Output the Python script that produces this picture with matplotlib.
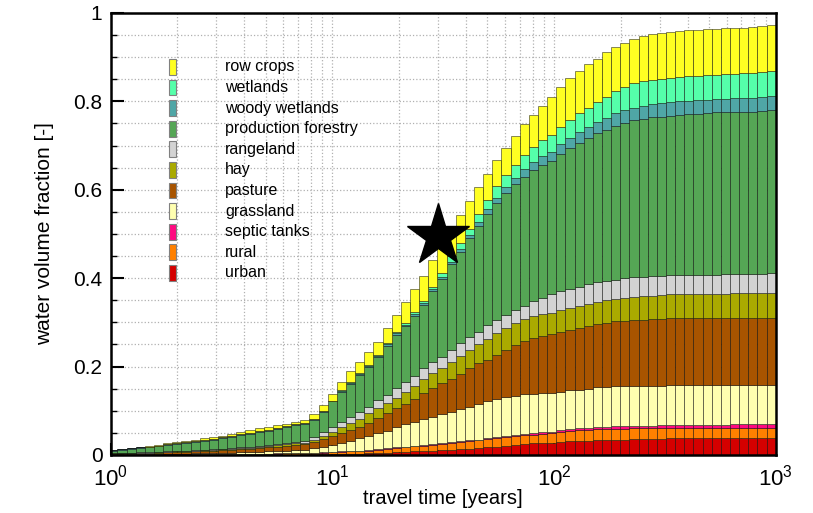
import matplotlib
matplotlib.use("Agg")
import matplotlib.pyplot as plt
from matplotlib.patches import Rectangle
from matplotlib.ticker import LogLocator, MultipleLocator, NullFormatter
import numpy as np

plt.rcParams['font.family'] = ['Liberation Sans', 'DejaVu Sans']
plt.rcParams['mathtext.fontset'] = 'custom'
plt.rcParams['mathtext.rm'] = 'Liberation Sans'
plt.rcParams['mathtext.it'] = 'Liberation Sans:italic'

# travel-time bins, log spaced, last edge at 1000 years
travel_time_edges = np.logspace(-0.011, 3, 74)

# cumulative water volume fraction at the top of each land-use layer, one value per bin
urban_top = [.0002, .0002, .0002, .0003, .0003, .0003, .0004, .0004, .0004, .0005,
             .0005, .0006, .0006, .0007, .0008, .0008, .0009, .001, .001, .001,
             .001, .0012, .0014, .0016, .002, .002, .003, .003, .004, .004,
             .005, .006, .007, .008, .009, .010, .011, .012, .013, .014,
             .015, .017, .019, .021, .023, .025, .026, .027, .028, .030,
             .031, .031, .032, .034, .035, .035, .035, .036, .037, .037,
             .037, .038, .038, .038, .038, .038, .038, .038, .038, .038,
             .038, .038, .038]
rural_top = [.0004, .0005, .0006, .0007, .0008, .0009, .001, .0011, .0012, .0013,
             .0014, .0016, .0018, .002, .0022, .0025, .0027, .003, .0033, .0036,
             .004, .0045, .005, .0055, .006, .007, .008, .009, .010, .012,
             .014, .016, .018, .020, .021, .023, .025, .027, .029, .031,
             .033, .036, .039, .041, .043, .045, .046, .048, .049, .053,
             .054, .056, .057, .058, .059, .059, .059, .060, .060, .060,
             .060, .060, .060, .060, .060, .060, .060, .060, .060, .060,
             .060, .060, .060]
septic_top = [.0005, .0006, .0007, .0008, .0009, .001, .0011, .0012, .0013, .0014,
              .0016, .0018, .002, .0022, .0025, .0028, .003, .0033, .0036, .004,
              .0045, .005, .0055, .006, .007, .008, .009, .010, .011, .013,
              .015, .017, .019, .021, .023, .025, .027, .029, .031, .033,
              .035, .038, .041, .043, .045, .047, .049, .051, .053, .057,
              .059, .060, .062, .064, .064, .065, .065, .066, .066, .066,
              .067, .067, .068, .068, .068, .068, .068, .068, .069, .069,
              .069, .070, .070]
grassland_top = [.001, .0012, .0014, .0016, .0018, .002, .0022, .0025, .003, .0035,
                 .004, .0045, .005, .0055, .006, .0065, .007, .008, .009, .010,
                 .011, .012, .015, .019, .023, .028, .032, .038, .043, .049,
                 .054, .064, .069, .075, .081, .087, .092, .098, .103, .109,
                 .115, .121, .126, .131, .134, .137, .139, .140, .140, .143,
                 .146, .147, .149, .153, .154, .155, .155, .156, .156, .157,
                 .157, .158, .158, .158, .158, .158, .158, .158, .158, .158,
                 .158, .158, .158]
pasture_top = [.003, .0035, .004, .0045, .005, .0055, .006, .007, .0075, .008,
               .009, .010, .011, .012, .013, .014, .015, .017, .018, .020,
               .022, .024, .030, .037, .043, .049, .057, .064, .073, .083,
               .094, .106, .115, .126, .140, .151, .162, .171, .183, .196,
               .207, .215, .226, .238, .249, .258, .264, .269, .273, .278,
               .283, .288, .292, .296, .299, .302, .304, .305, .306, .307,
               .308, .309, .310, .310, .310, .310, .310, .310, .310, .311,
               .311, .311, .311]
hay_top = [.0035, .004, .0045, .005, .0055, .0065, .0075, .0085, .009, .010,
           .011, .012, .013, .014, .015, .016, .018, .020, .022, .024,
           .026, .028, .035, .044, .053, .063, .072, .082, .094, .106,
           .117, .128, .143, .156, .171, .185, .196, .211, .224, .238,
           .250, .262, .275, .287, .298, .307, .314, .318, .321, .327,
           .332, .337, .342, .347, .351, .353, .355, .357, .360, .360,
           .362, .364, .365, .365, .365, .365, .365, .365, .366, .366,
           .366, .366, .366]
rangeland_top = [.004, .0045, .005, .006, .0065, .0075, .0085, .0095, .010, .011,
                 .012, .013, .014, .015, .017, .018, .020, .022, .024, .026,
                 .029, .031, .040, .051, .064, .075, .087, .098, .109, .124,
                 .136, .151, .166, .179, .196, .210, .222, .238, .253, .266,
                 .279, .293, .305, .317, .328, .338, .348, .356, .364, .370,
                 .375, .381, .387, .391, .394, .397, .400, .402, .403, .405,
                 .406, .407, .408, .408, .408, .408, .408, .409, .409, .410,
                 .410, .410, .411]
forestry_top = [.010, .012, .014, .016, .017, .020, .023, .025, .027, .030,
                .032, .035, .038, .041, .045, .048, .052, .055, .059, .063,
                .067, .070, .080, .098, .121, .143, .160, .181, .200, .222,
                .247, .272, .291, .315, .340, .370, .398, .432, .460, .490,
                .518, .545, .570, .592, .612, .630, .644, .655, .664, .680,
                .694, .705, .718, .728, .735, .744, .750, .758, .761, .764,
                .765, .768, .769, .771, .771, .773, .775, .776, .776, .776,
                .777, .778, .781]
woody_wetlands_top = [.011, .013, .015, .017, .018, .021, .024, .027, .029, .032,
                      .034, .037, .040, .043, .047, .050, .054, .057, .061, .065,
                      .069, .072, .081, .099, .122, .145, .162, .183, .202, .224,
                      .250, .275, .294, .319, .344, .375, .403, .437, .466, .497,
                      .527, .556, .582, .606, .627, .647, .663, .676, .686, .704,
                      .718, .730, .741, .753, .763, .773, .781, .786, .790, .794,
                      .796, .799, .801, .801, .802, .803, .805, .806, .807, .808,
                      .808, .810, .812]
wetlands_top = [.011, .013, .015, .017, .018, .021, .024, .027, .029, .032,
                .034, .037, .040, .043, .047, .050, .054, .057, .061, .065,
                .069, .072, .082, .100, .123, .147, .164, .185, .204, .226,
                .253, .278, .298, .323, .349, .381, .411, .450, .479, .512,
                .545, .578, .608, .634, .657, .678, .697, .712, .724, .743,
                .759, .773, .784, .799, .811, .824, .832, .841, .845, .848,
                .851, .854, .856, .857, .858, .860, .860, .861, .863, .864,
                .865, .867, .869]
row_crops_top = [.012, .014, .016, .018, .020, .023, .026, .029, .032, .035,
                 .038, .041, .044, .048, .052, .056, .060, .063, .067, .071,
                 .075, .079, .092, .112, .137, .166, .189, .210, .232, .256,
                 .288, .317, .347, .375, .406, .440, .471, .505, .543, .575,
                 .606, .636, .667, .695, .722, .748, .770, .790, .810, .832,
                 .852, .869, .884, .897, .911, .923, .933, .940, .948, .952,
                 .955, .957, .959, .961, .962, .963, .964, .965, .967, .967,
                 .969, .971, .973]

labels = ['urban', 'rural', 'septic tanks', 'grassland', 'pasture', 'hay',
          'rangeland', 'production forestry', 'woody wetlands', 'wetlands', 'row crops']
colors = ['#d40000', '#ff8000', '#ff0a80', '#ffffb0', '#a85400', '#aaaa00',
          '#d3d3d3', '#55a655', '#4fa6a6', '#55ffaa', '#ffff22']
tops = [urban_top, rural_top, septic_top, grassland_top, pasture_top, hay_top,
        rangeland_top, forestry_top, woody_wetlands_top, wetlands_top, row_crops_top]

y_ticks = [0, 0.2, 0.4, 0.6, 0.8, 1]
y_tick_labels = ['0', '0.2', '0.4', '0.6', '0.8', '1']

star_x, star_y = 30, 0.495

fig = plt.figure(figsize=(8.13, 5.13), dpi=100)
ax = fig.add_axes([0.1362, 0.1131, 0.818, 0.8616])

left = travel_time_edges[:-1]
widths = np.diff(travel_time_edges)
bottom = np.zeros(len(left))
for label, color, top in zip(labels, colors, tops):
    top = np.array(top)
    ax.bar(left, top - bottom, width=widths, bottom=bottom, align='edge',
           color=color, edgecolor=(0, 0, 0, 0.55), linewidth=0.6, zorder=2)
    bottom = top

ax.plot(star_x, star_y, marker='*', markersize=47, color='k', zorder=5)

ax.set_xscale('log')
ax.set_xlim(1, 1000)
ax.set_ylim(0, 1)
ax.set_yticks(y_ticks)
ax.set_yticklabels(y_tick_labels)
ax.yaxis.set_minor_locator(MultipleLocator(0.05))
ax.xaxis.set_minor_locator(LogLocator(base=10, subs=np.arange(2, 10)))
ax.xaxis.set_minor_formatter(NullFormatter())

ax.grid(True, which='both', linestyle=':', color='#b0b0b0', linewidth=0.9, zorder=0)
ax.set_axisbelow(True)
ax.tick_params(which='major', direction='in', length=9, width=1.5, labelsize=15, pad=6)
ax.tick_params(which='minor', direction='in', length=4, width=1)
ax.tick_params(axis='x', which='major', pad=7, labelsize=16)
for spine in ax.spines.values():
    spine.set_linewidth(1.8)

ax.set_xlabel('travel time [years]', fontsize=14.5, labelpad=-1)
ax.set_ylabel('water volume fraction [-]', fontsize=15, labelpad=14)

# legend drawn by hand, top entry first
for i, (label, color) in enumerate(zip(labels[::-1], colors[::-1])):
    yc = 0.878 - i * 0.0466
    ax.add_patch(Rectangle((0.088, yc - 0.018), 0.010, 0.036, transform=ax.transAxes,
                           facecolor=color, edgecolor='#808080', linewidth=0.8, zorder=6))
    ax.text(0.172, yc, label, transform=ax.transAxes, fontsize=11.5,
            va='center', ha='left', zorder=6)

fig.savefig('out.png', dpi=100)
